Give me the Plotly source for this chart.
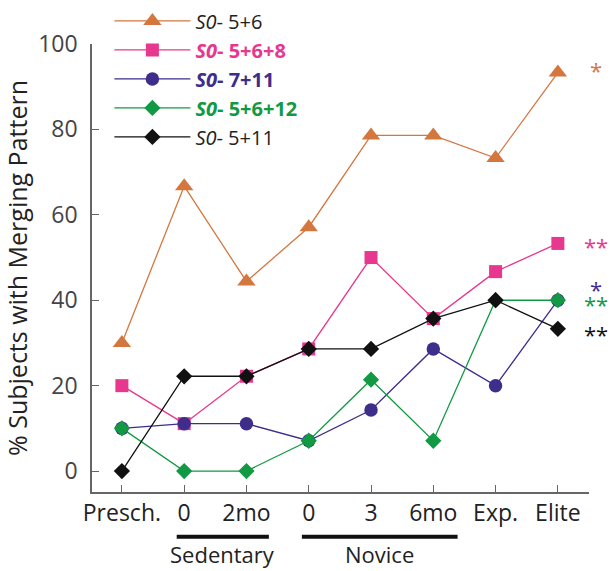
import plotly.graph_objects as go

categories = ["Presch.", "0", "2mo", "0", "3", "6mo", "Exp.", "Elite"]
x_pos = list(range(len(categories)))

s_5_6 = [30.0, 66.7, 44.4, 57.1, 78.6, 78.6, 73.3, 93.3]
s_5_6_8 = [20.0, 11.1, 22.2, 28.6, 50.0, 35.7, 46.7, 53.3]
s_7_11 = [10.0, 11.1, 11.1, 7.1, 14.3, 28.6, 20.0, 40.0]
s_5_6_12 = [10.0, 0.0, 0.0, 7.1, 21.4, 7.1, 40.0, 40.0]
s_5_11 = [0.0, 22.2, 22.2, 28.6, 28.6, 35.7, 40.0, 33.3]

series_names = ["S0- 5+6", "S0- 5+6+8", "S0- 7+11", "S0- 5+6+12", "S0- 5+11"]
significance = ["*", "**", "*", "**", "**"]

colors = ["#D4773F", "#E8378F", "#3F2D8C", "#119A43", "#111111"]
symbols = ["triangle-up", "square", "circle", "diamond", "diamond"]
sizes = [16, 13, 13.5, 12.5, 12.5]
bold = [False, True, True, True, False]

font = "Open Sans"

fig = go.Figure()
all_series = [s_5_6, s_5_6_8, s_7_11, s_5_6_12, s_5_11]
for i, ys in enumerate(all_series):
    prefix, rest = series_names[i].split("-", 1)
    label = f"<i>{prefix}</i>-{rest}"
    if bold[i]:
        label = f"<b>{label}</b>"
    label = f"<span style='color:{colors[i] if bold[i] else '#222'}'>{label}</span>"
    fig.add_trace(go.Scatter(
        x=x_pos, y=ys, mode="lines+markers", name=label,
        legendgroup=f"g{i}",
        line=dict(color=colors[i], width=1.3),
        marker=dict(symbol=symbols[i], size=sizes[i], color=colors[i], line=dict(width=0)),
        cliponaxis=False,
    ))

# significance asterisks next to last point
sig_y = [93.9, 52.6, 42.6, 39.1, 32.1]
sig_x = [0.998, 0.986, 0.998, 0.986, 0.986]
for i in range(len(all_series)):
    fig.add_annotation(x=sig_x[i], xref="paper", y=sig_y[i], yref="y", text=significance[i],
                       showarrow=False, xanchor="left", yanchor="middle",
                       font=dict(family=font, size=22, color=colors[i]))

# group brackets
groups = [("Sedentary", 0.88, 2.36), ("Novice", 2.89, 5.39)]
for name, x0, x1 in groups:
    fig.add_shape(type="line", xref="x", yref="paper", x0=x0, x1=x1, y0=-0.1, y1=-0.1,
                  line=dict(color="#111", width=4))
    fig.add_annotation(x=(x0 + x1) / 2, xref="x", y=-0.139, yref="paper", text=name,
                       showarrow=False, yanchor="middle",
                       font=dict(family=font, size=22, color="#222"))

fig.update_layout(
    width=611, height=571,
    margin=dict(l=92, r=22, t=44, b=79, autoexpand=False),
    paper_bgcolor="white", plot_bgcolor="white",
    font=dict(family=font, color="#222"),
    showlegend=True,
    legend=dict(x=0.035, y=1.095, xanchor="left", yanchor="top",
                font=dict(family=font, size=20, color="#222"),
                bgcolor="rgba(0,0,0,0)", itemwidth=76, tracegroupgap=0),
    xaxis=dict(range=[-0.48, 7.5], tickvals=x_pos, ticktext=categories,
               showline=True, linecolor="#666", linewidth=1.5, mirror=False,
               ticks="inside", ticklen=7, tickcolor="#666", tickwidth=1.3,
               showgrid=False, zeroline=False,
               tickfont=dict(family=font, size=23, color="#222")),
    yaxis=dict(range=[-4.9, 100], tickvals=[0, 20, 40, 60, 80, 100],
               showline=True, linecolor="#666", linewidth=1.5,
               ticks="inside", ticklen=7, tickcolor="#666", tickwidth=1.3,
               showgrid=False, zeroline=False, ticklabelstandoff=8,
               tickfont=dict(family=font, size=23, color="#444"),
               title=dict(text="% Subjects with Merging Pattern", standoff=8,
                          font=dict(family=font, size=25, color="#222"))),
)

fig.write_html("out.html")
